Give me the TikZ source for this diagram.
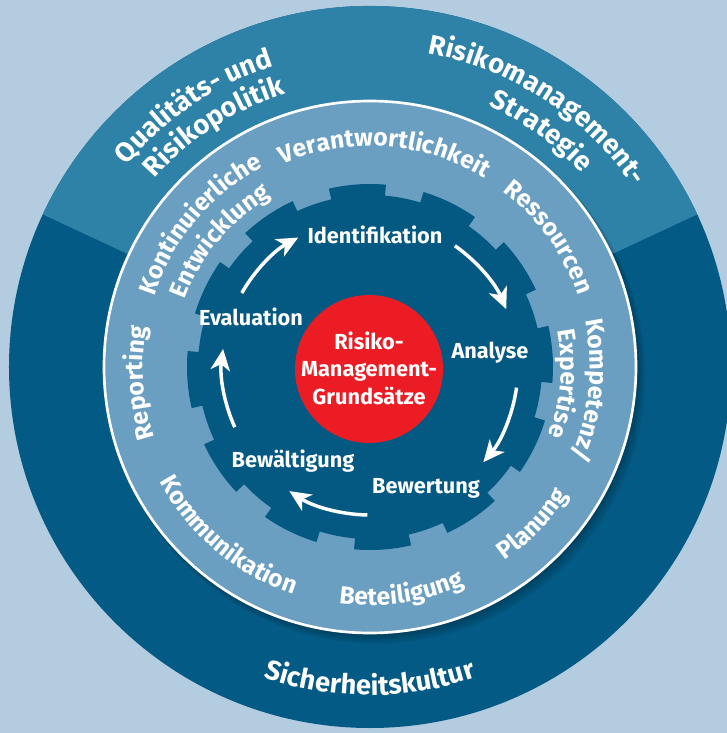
\documentclass[tikz,border=0pt]{standalone}
\usepackage{fontspec}
\setmainfont{Fira Sans}
\usetikzlibrary{arrows.meta,decorations.text}
\definecolor{bgblue}{RGB}{179,204,223}
\definecolor{outerdark}{RGB}{3,90,132}
\definecolor{outerlight}{RGB}{46,130,168}
\definecolor{ringblue}{RGB}{106,159,194}
\definecolor{gearblue}{RGB}{4,89,131}
\definecolor{riskred}{RGB}{236,28,36}
\newcommand{\outerfont}{\bfseries\fontsize{20.5}{24}\selectfont\color{white}}
\newcommand{\ringfont}{\bfseries\fontsize{18.5}{22}\selectfont\color{white}}
\newcommand{\stepfont}{\bfseries\fontsize{16.3}{20.6}\selectfont}
\begin{document}
\begin{tikzpicture}[x=0.75pt,y=0.75pt,
	arctext/.style={decorate,decoration={text along path,text align=center,text={#1}}},
	steplabel/.style={text=white,font=\stepfont,anchor=base,inner sep=0pt},
	cyclearrow/.style={white,line width=2.6pt,-{Stealth[length=16pt,width=14.5pt,inset=4.5pt]}}]
	\fill[bgblue] (-370,-366) rectangle (357,367);
	\useasboundingbox (-370,-366) rectangle (357,367);
	\fill[outerdark] (0,0) circle[radius=361];
	\fill[outerlight] (0,0) -- (25:361) arc[start angle=25,end angle=155,radius=361] -- cycle;
	\foreach \s in {1,...,5}
		\fill[black,opacity=0.06] (\s*1.2,-\s*1.5) circle[radius={266+\s*0.6}];
	\filldraw[ringblue,draw=white,line width=2pt] (0,0) circle[radius=266];
	\fill[gearblue] (103:183)
		\foreach \k in {0,...,11} {
			arc[start angle={103-30*\k},end angle={85-30*\k},radius=183]
			-- ({85-30*\k}:172)
			arc[start angle={85-30*\k},end angle={73-30*\k},radius=172]
			-- ({73-30*\k}:183)
		} -- cycle;
	\fill[riskred] (-1,-2) circle[radius=74];
	\node[font=\stepfont,text=white,align=center,inner sep=0pt] (core) at (-1,-1) {Risiko-\\Management-\\Grundsätze};
	\node[steplabel] (ident) at (5,124) {Identifikation};
	\node[steplabel] (analyse) at (120,9) {Analyse};
	\node[steplabel] (bewertung) at (56,-126) {Bewertung};
	\node[steplabel] (bewaeltigung) at (-77,-100) {Bewältigung};
	\node[steplabel] (evaluation) at (-119,42) {Evaluation};
	\coordinate (A1) at (150:148);
	\coordinate (B1) at (119:148);
	\coordinate (A2) at (55:148);
	\coordinate (B2) at (23:148);
	\coordinate (A3) at (-8:148);
	\coordinate (B3) at (-40:148);
	\coordinate (A4) at (-91:148);
	\coordinate (B4) at (-123:148);
	\coordinate (A5) at (-156:148);
	\coordinate (B5) at (-187:148);
	\draw[cyclearrow] (A1) to[bend left=16,looseness=0.87] (B1);
	\draw[cyclearrow] (A2) to[bend left=16,looseness=0.87] (B2);
	\draw[cyclearrow] (A3) to[bend left=16,looseness=0.87] (B3);
	\draw[cyclearrow] (A4) to[bend left=16,looseness=0.87] (B4);
	\draw[cyclearrow] (A5) to[bend left=16,looseness=0.87] (B5);
	\path[arctext={|\outerfont|Qualitäts- und}] (194:316) arc[start angle=194,end angle=54,radius=316];
	\path[arctext={|\outerfont|Risikopolitik}] (193:286) arc[start angle=193,end angle=53,radius=286];
	\path[arctext={|\outerfont|Risikomanagement-}] (127:319) arc[start angle=127,end angle=-13,radius=319];
	\path[arctext={|\outerfont|Strategie}] (124:287) arc[start angle=124,end angle=-16,radius=287];
	\path[arctext={|\outerfont|Sicherheitskultur}] (-160:328) arc[start angle=-160,end angle=-20,radius=328];
	\path[arctext={|\ringfont|Verantwortlichkeit}] (156:221) arc[start angle=156,end angle=16,radius=221];
	\path[arctext={|\ringfont|Ressourcen}] (106:220) arc[start angle=106,end angle=-34,radius=220];
	\path[arctext={|\ringfont|Kompetenz/}] (64:220) arc[start angle=64,end angle=-76,radius=220];
	\path[arctext={|\ringfont|Expertise}] (65:191) arc[start angle=65,end angle=-75,radius=191];
	\path[arctext={|\ringfont|Reporting}] (254:227) arc[start angle=254,end angle=114,radius=227];
	\path[arctext={|\ringfont|Kontinuierliche}] (210:227) arc[start angle=210,end angle=70,radius=227];
	\path[arctext={|\ringfont|Entwicklung}] (210:197) arc[start angle=210,end angle=70,radius=197];
	\path[arctext={|\ringfont|Planung}] (-114:236) arc[start angle=-114,end angle=26,radius=236];
	\path[arctext={|\ringfont|Beteiligung}] (-152:238) arc[start angle=-152,end angle=-12,radius=238];
	\path[arctext={|\ringfont|Kommunikation}] (-200:240) arc[start angle=-200,end angle=-60,radius=240];
\end{tikzpicture}
\end{document}
